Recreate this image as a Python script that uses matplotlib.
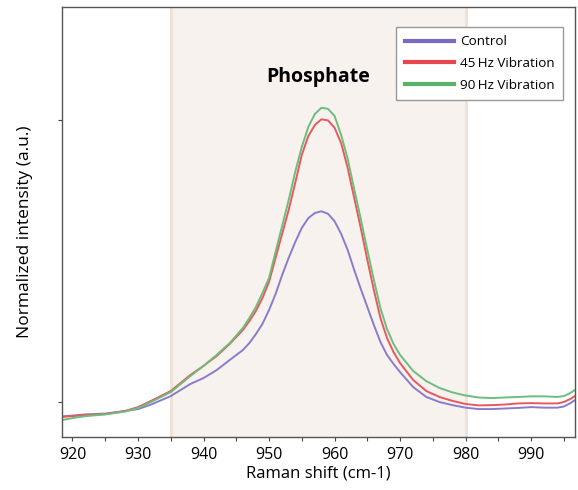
import matplotlib
matplotlib.use("Agg")
import matplotlib.pyplot as plt
from matplotlib.ticker import MultipleLocator

plt.rcParams['font.family'] = ['Open Sans', 'DejaVu Sans']

# Raman shift (cm-1)
shift = [918.4, 920, 922, 925, 928, 930, 932, 935, 938, 940, 942, 944, 946, 947,
         948, 949, 950, 951, 952, 953, 954, 955, 956, 957, 958, 959, 960, 961,
         962, 963, 964, 965, 966, 967, 968, 969, 970, 972, 974, 976, 978, 980,
         982, 984, 986, 988, 990, 992, 994, 995, 996, 996.7]

control = [-0.051, -0.048, -0.044, -0.041, -0.032, -0.025, -0.009, 0.021, 0.064,
           0.085, 0.113, 0.149, 0.184, 0.209, 0.241, 0.277, 0.326, 0.383, 0.450,
           0.511, 0.567, 0.617, 0.652, 0.670, 0.676, 0.667, 0.641, 0.596, 0.539,
           0.468, 0.401, 0.337, 0.273, 0.213, 0.167, 0.135, 0.106, 0.053, 0.018,
           0.000, -0.011, -0.020, -0.025, -0.025, -0.023, -0.021, -0.018, -0.020,
           -0.020, -0.016, -0.004, 0.007]

vib45 = [-0.053, -0.050, -0.046, -0.043, -0.032, -0.018, 0.004, 0.039, 0.096,
         0.128, 0.163, 0.206, 0.255, 0.287, 0.323, 0.369, 0.426, 0.511, 0.596,
         0.681, 0.777, 0.876, 0.943, 0.982, 1.002, 0.998, 0.972, 0.918, 0.830,
         0.723, 0.617, 0.504, 0.397, 0.298, 0.227, 0.177, 0.138, 0.078, 0.039,
         0.018, 0.004, -0.007, -0.012, -0.011, -0.009, -0.005, -0.004, -0.005,
         -0.005, 0.000, 0.011, 0.021]

vib90 = [-0.064, -0.057, -0.050, -0.044, -0.034, -0.021, 0.000, 0.035, 0.092,
         0.128, 0.167, 0.209, 0.262, 0.298, 0.337, 0.387, 0.440, 0.532, 0.624,
         0.716, 0.816, 0.904, 0.975, 1.021, 1.043, 1.039, 1.014, 0.947, 0.862,
         0.755, 0.649, 0.539, 0.433, 0.333, 0.259, 0.206, 0.167, 0.110, 0.074,
         0.050, 0.034, 0.023, 0.016, 0.014, 0.016, 0.018, 0.020, 0.020, 0.018,
         0.021, 0.032, 0.043]

band_range = (935, 980)
series_labels = ['Control', '45\u2009Hz Vibration', '90\u2009Hz Vibration']
series_colors = ['#8a7ccc', '#e8585e', '#6dbd7c']
legend_colors = ['#7a68c2', '#e8454d', '#5bb26a']

fig = plt.figure(figsize=(5.78, 4.9), dpi=100)
ax = fig.add_axes([62 / 578, 53 / 490, 513 / 578, 430 / 490])

# highlighted phosphate band
ax.axvspan(*band_range, facecolor='#f7f2ee', edgecolor='none', zorder=0)
for edge in band_range:
    ax.axvline(edge, color='#efe1d4', lw=2, zorder=0.5)

for y, c in zip([control, vib45, vib90], series_colors):
    ax.plot(shift, y, color=c, lw=1.4, zorder=2)

ax.text(957.5, 1.152, 'Phosphate', ha='center', va='center',
        fontsize=14, fontweight='bold', family=['Open Sans', 'DejaVu Sans'])

ax.set_xlim(918.4, 996.7)
ax.set_ylim(-0.124, 1.40)
ax.xaxis.set_major_locator(MultipleLocator(10))
ax.xaxis.set_minor_locator(MultipleLocator(5))
ax.set_yticks([0, 1])
ax.set_yticklabels([])
ax.tick_params(axis='both', which='both', direction='out', length=3,
               width=0.8, color='#444444', labelsize=11.5, pad=4)

for s in ax.spines.values():
    s.set_color('#555555')
    s.set_linewidth(1.0)

ax.set_xlabel('Raman shift (cm-1)', fontsize=12, labelpad=2)
ax.set_ylabel('Normalized intensity (a.u.)', fontsize=12.5)
ax.yaxis.set_label_coords(-0.056, 0.477)

handles = [plt.Line2D([], [], color=c, lw=3) for c in legend_colors]
leg = ax.legend(handles, series_labels, loc='upper right',
                bbox_to_anchor=(0.977, 0.953), borderaxespad=0,
                fontsize=9.7, handlelength=3.7, handletextpad=0.45,
                labelspacing=0.66, borderpad=0.6, fancybox=False, framealpha=1)
leg.get_frame().set_edgecolor('#999999')
leg.get_frame().set_linewidth(1.0)

fig.savefig('out.png', dpi=100)
